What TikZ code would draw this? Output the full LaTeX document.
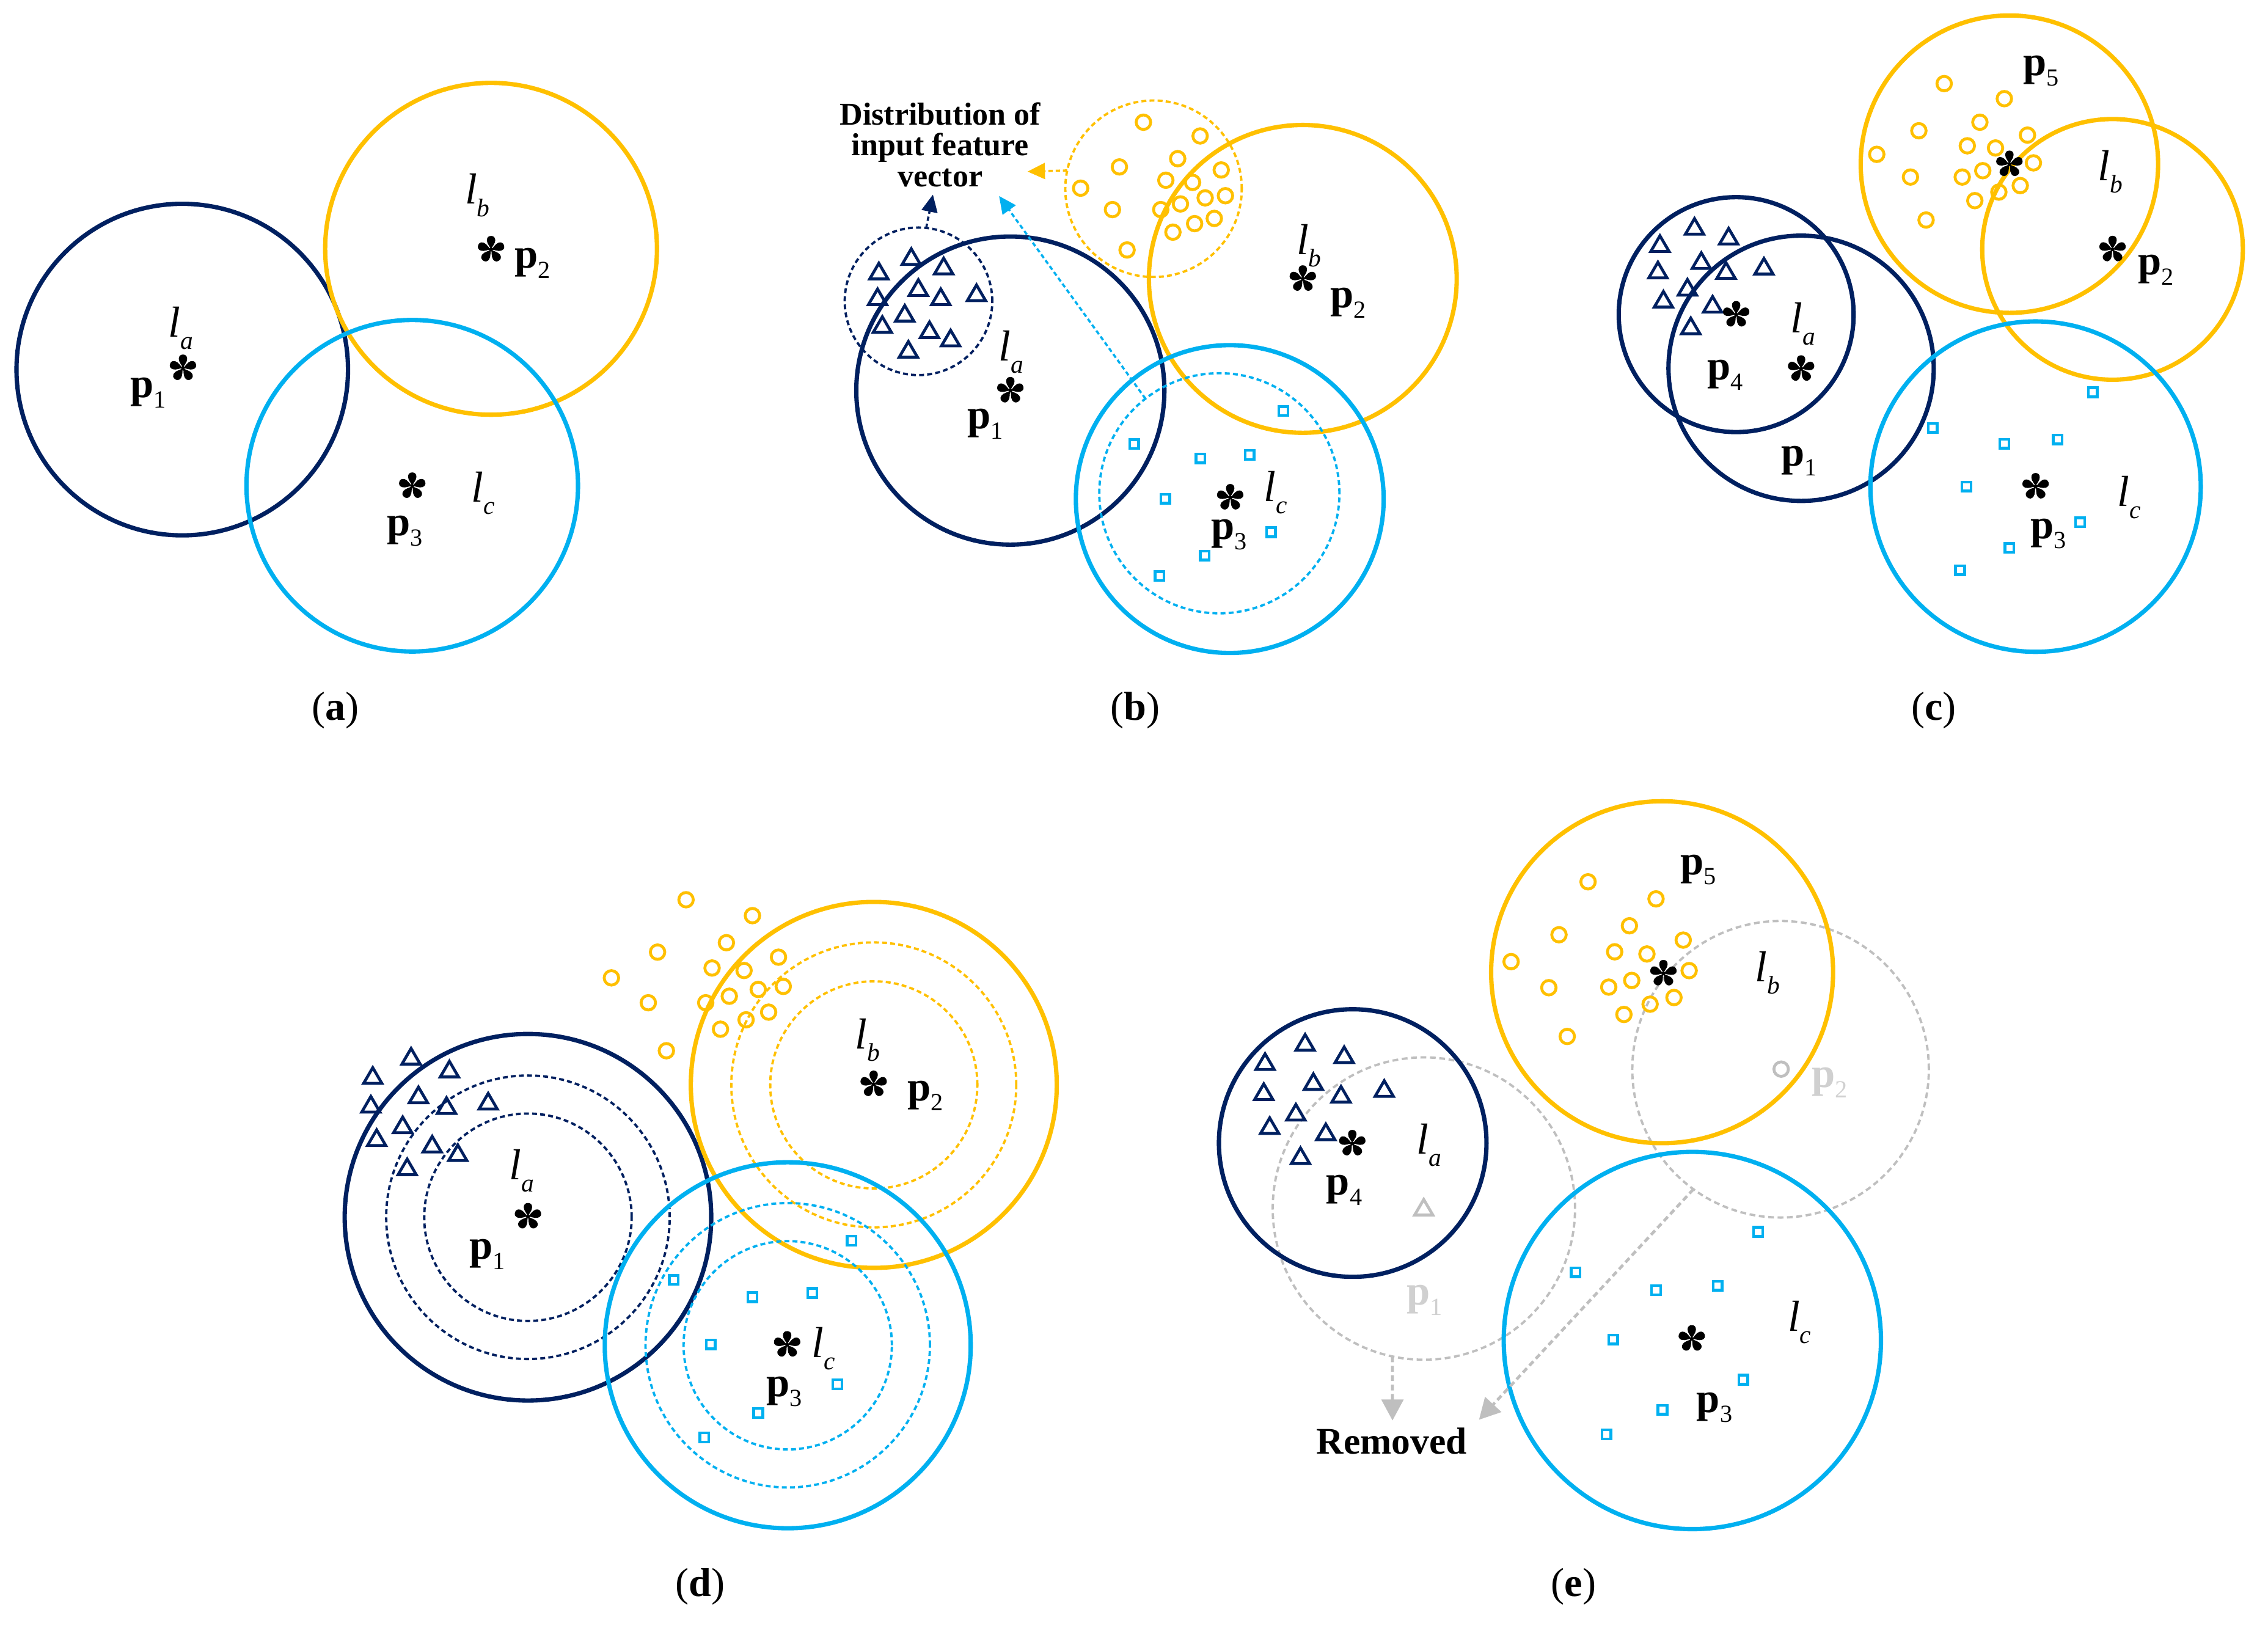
\documentclass[tikz,border=0pt]{standalone}
\usepackage{fontspec}
\setmainfont{Liberation Serif}
\usetikzlibrary{arrows.meta}
\definecolor{navy}{RGB}{0,32,96}
\definecolor{gold}{RGB}{255,192,0}
\definecolor{sky}{RGB}{0,176,240}
\definecolor{ghost}{RGB}{191,191,191}
\definecolor{ghosttxt}{RGB}{208,208,208}
\newcommand\pv[1]{{\fontsize{29}{30}\selectfont\bfseries p}\raisebox{-7pt}{\fontsize{17}{20}\selectfont #1}}
\newcommand\lv[1]{{\fontsize{30}{30}\selectfont\itshape l}\raisebox{-8.5pt}{\fontsize{17.5}{20}\selectfont\itshape #1}}
\begin{document}
\begin{tikzpicture}[x=1pt,y=-1pt,
  big/.style={line width=3pt},
  dsh/.style={line width=1.6pt,dash pattern=on 3.4pt off 2.2pt},
  lab/.style={inner sep=0pt,outer sep=0pt},
  panelcap/.style={inner sep=0pt,font=\fontsize{28}{30}\selectfont},
  arr/.style={line width=1.5pt,dash pattern=on 3pt off 2pt,-{Triangle[length=12pt,width=11pt]}},
  garr/.style={line width=2pt,dash pattern=on 4pt off 2.5pt,-{Triangle[length=14.5pt,width=15pt]}},
  dnode/.style={circle,draw,dsh,inner sep=0pt,outer sep=0pt},
  tri/.pic={\draw[line width=2pt] (0pt,6pt) -- (-6.3pt,-4.8pt) -- (6.3pt,-4.8pt) -- cycle;},
  ring/.pic={\draw[line width=2pt] (0,0) circle[radius=5pt];},
  sqr/.pic={\draw[line width=1.9pt] (-3.1pt,-3.1pt) rectangle (3.1pt,3.1pt);},
  ast/.pic={\fill[black] (0,0) circle[radius=1.3pt];
    \foreach \a in {90,162,234,306,18}{\fill[black,rotate=\a] (0,0) .. controls (2pt,0.6pt) and (4pt,2.9pt) .. (6.4pt,2.9pt) .. controls (8.4pt,2.9pt) and (9.4pt,1.7pt) .. (9.4pt,0pt) .. controls (9.4pt,-1.7pt) and (8.4pt,-2.9pt) .. (6.4pt,-2.9pt) .. controls (4pt,-2.9pt) and (2pt,-0.6pt) .. (0,0) -- cycle;}}
]
\useasboundingbox (0,0) rectangle (1568,1126);

% ================= (a) =================
\draw[navy,big] (126,255.5) circle[radius=114.6pt];
\draw[gold,big] (339.5,172) circle[radius=114.7pt];
\draw[sky,big] (285,335.8) circle[radius=114.6pt];
\pic at (126.5,254.5) {ast};
\pic at (339.5,172.5) {ast};
\pic at (285,336) {ast};
\node[lab] (a-la) at (125,227) {\lv{a}};
\node[lab] (a-p1) at (102.6,271.6) {\pv{1}};
\node[lab] (a-lb) at (330,135) {\lv{b}};
\node[lab] (a-p2) at (368,182) {\pv{2}};
\node[lab] (a-lc) at (334,341) {\lv{c}};
\node[lab] (a-p3) at (280,367) {\pv{3}};
\node[panelcap] (a-cap) at (232,491) {(\textbf{a})};

% ================= (b) =================
\draw[navy,big] (698.5,270) circle[radius=106.5pt];
\draw[gold,big] (900.7,192.8) circle[radius=106.4pt];
\draw[sky,big] (850.2,345) circle[radius=106.4pt];
\node[dnode,navy,minimum size=102pt] (b-dn) at (635,208.3) {};
\node[dnode,gold,minimum size=122pt] (b-dy) at (797.5,130.5) {};
\node[dnode,sky,minimum size=166pt] (b-ds) at (843,341) {};
\foreach \x/\y in {630/178, 607.6/188, 652.4/184.5, 634.9/199.4, 606.7/205.8, 650.4/205.8, 675.1/203, 625.5/217.2, 610/225, 642.6/228.6, 657.2/234.3, 628/242.1}
  \pic[navy] at (\x,\y) {tri};
\foreach \x/\y in {790.5/84.5, 829.7/94, 773.9/115.4, 814.2/109.7, 747.1/130.1, 806/124.6, 844.3/117.5, 824.5/126.1, 769.1/144.9, 802.5/144.9, 816.1/141, 833.2/136.8, 847.2/135.3, 825.9/154.6, 839.5/151, 810.9/160.5, 779.2/172.8}
  \pic[gold] at (\x,\y) {ring};
\foreach \x/\y in {887.3/284.2, 784.1/307, 829.9/316.9, 863.9/314.5, 805.7/344.8, 878.7/367.9, 832.9/384.1, 801.6/398.2}
  \pic[sky] at (\x,\y) {sqr};
\node[lab,align=center,font=\fontsize{22}{21.4}\selectfont\bfseries] (b-dist) at (650,100) {Distribution of\\input feature\\vector};
\coordinate (b-tn) at (645,134.5);
\coordinate (b-ty) at (710.4,118.6);
\coordinate (b-ts) at (690.7,135.5);
\draw[arr,navy] (b-dn.84) -- (b-tn);
\draw[arr,gold] (b-dy.168.7) -- (b-ty);
\draw[arr,sky] (b-ds.128.6) -- (b-ts);
\pic at (698.5,270) {ast};
\pic at (900.7,192.8) {ast};
\pic at (850.5,344) {ast};
\node[lab] (b-la) at (699,243.5) {\lv{a}};
\node[lab] (b-p1) at (681,293) {\pv{1}};
\node[lab] (b-lb) at (905,170) {\lv{b}};
\node[lab] (b-p2) at (932,209.5) {\pv{2}};
\node[lab] (b-lc) at (882,340.5) {\lv{c}};
\node[lab] (b-p3) at (849.6,369.6) {\pv{3}};
\node[panelcap] (b-cap) at (785,491) {(\textbf{b})};

% ================= (c) =================
\draw[navy,big] (1200.3,217.5) circle[radius=81.2pt];
\draw[navy,big] (1245.2,254.6) circle[radius=91.7pt];
\draw[gold,big] (1389.2,113.5) circle[radius=102.8pt];
\draw[gold,big] (1460.5,172.4) circle[radius=90.1pt];
\draw[sky,big] (1407.3,336.4) circle[radius=114.2pt];
\foreach \x/\y in {1171.5/157.1, 1147.6/169, 1195.1/163.9, 1176.2/180.8, 1146.2/187.3, 1193.3/187.6, 1219.5/184.7, 1166.6/199.2, 1150/207.5, 1184/211, 1168.9/225.9}
  \pic[navy] at (\x,\y) {tri};
\foreach \x/\y in {1344.1/57.8, 1385.7/68.2, 1326.6/90.4, 1368.8/84.5, 1297.5/106.7, 1360.1/100.8, 1401.7/93.4, 1379.6/102.3, 1320.8/122.4, 1356.6/122.4, 1370.8/118, 1405.8/112.6, 1396.7/128.3, 1381.9/132.8, 1365.3/138.7, 1331.6/152.1}
  \pic[gold] at (\x,\y) {ring};
\foreach \x/\y in {1446.8/271.2, 1336.2/295.8, 1385.7/306.8, 1422.6/303.8, 1359.5/336.4, 1438.1/361, 1389.2/378.8, 1355.1/394.2}
  \pic[sky] at (\x,\y) {sqr};
\pic at (1389.2,113.5) {ast};
\pic at (1460.5,172.4) {ast};
\pic at (1200.3,217.5) {ast};
\pic at (1245.2,255) {ast};
\pic at (1407.3,336.4) {ast};
\node[lab] (c-p5) at (1411,49) {\pv{5}};
\node[lab] (c-lb) at (1459,118.6) {\lv{b}};
\node[lab] (c-p2) at (1490.4,186.7) {\pv{2}};
\node[lab] (c-la) at (1246.6,223.8) {\lv{a}};
\node[lab] (c-p4) at (1192.7,259.4) {\pv{4}};
\node[lab] (c-p1) at (1243.7,318.6) {\pv{1}};
\node[lab] (c-lc) at (1472,343.8) {\lv{c}};
\node[lab] (c-p3) at (1416,369) {\pv{3}};
\node[panelcap] (c-cap) at (1337,491) {(\textbf{c})};

% ================= (d) =================
\draw[navy,big] (365,841.5) circle[radius=126.7pt];
\draw[navy,dsh] (365,841.5) circle[radius=98pt];
\draw[navy,dsh] (365,841.5) circle[radius=71.7pt];
\draw[gold,big] (604.1,750) circle[radius=126.5pt];
\draw[gold,dsh] (604.1,750) circle[radius=98.5pt];
\draw[gold,dsh] (604.1,750) circle[radius=71.6pt];
\draw[sky,big] (544.6,930) circle[radius=126.5pt];
\draw[sky,dsh] (544.6,930) circle[radius=98.3pt];
\draw[sky,dsh] (544.6,930) circle[radius=72pt];
\foreach \x/\y in {284.2/730.8, 257.7/744.1, 310.7/739.7, 289.3/757.5, 256.4/764, 308.7/764.9, 337.5/761.9, 278.4/778.2, 260.4/787.1, 298.8/791.6, 316.5/797.5, 281.5/807.3}
  \pic[navy] at (\x,\y) {tri};
\foreach \x/\y in {474.3/622, 520.2/633, 502.2/651.7, 454.6/658.2, 538.2/661.7, 492.3/669.2, 514.4/670.9, 422.7/676, 504.2/688.7, 524.2/684, 541.5/681.9, 448.2/693.2, 487.9/693.2, 531.4/699.7, 515.8/705, 498.1/711.5, 460.7/726.4}
  \pic[gold] at (\x,\y) {ring};
\foreach \x/\y in {588.7/857.7, 465.8/884.9, 520.2/896.8, 561.6/893.8, 491.3/929.4, 578.9/957, 524.2/976.8, 486.9/993.7}
  \pic[sky] at (\x,\y) {sqr};
\pic at (365,841) {ast};
\pic at (604,749.5) {ast};
\pic at (544.2,929.6) {ast};
\node[lab] (d-la) at (360.6,809.4) {\lv{a}};
\node[lab] (d-p1) at (336.8,867.2) {\pv{1}};
\node[lab] (d-lb) at (599.9,719) {\lv{b}};
\node[lab] (d-p2) at (639.7,757.5) {\pv{2}};
\node[lab] (d-lc) at (569.4,932.4) {\lv{c}};
\node[lab] (d-p3) at (542.2,962) {\pv{3}};
\node[panelcap] (d-cap) at (484,1097) {(\textbf{d})};

% ================= (e) =================
\node[dnode,ghost,minimum size=209pt,dash pattern=on 4pt off 2.5pt] (e-g1) at (984.4,835.5) {};
\node[dnode,ghost,minimum size=205pt,dash pattern=on 4pt off 2.5pt] (e-g2) at (1231,739.2) {};
\draw[navy,big] (935.2,790.2) circle[radius=92.5pt];
\draw[gold,big] (1149.1,672.1) circle[radius=118.2pt];
\draw[sky,big] (1170,926.7) circle[radius=130.4pt];
\foreach \x/\y in {902.3/721.2, 874.6/734.5, 929.3/729.8, 908/748.4, 873.7/755.3, 927.1/757.1, 957/753.1, 895.9/769.5, 877.8/778.8, 916.6/783.1, 899.1/799.6}
  \pic[navy] at (\x,\y) {tri};
\pic[ghost] at (984.3,835.2) {tri};
\foreach \x/\y in {1097.9/609.6, 1144.9/621.4, 1077.8/646.2, 1126.5/640, 1044.7/664.8, 1116.3/658, 1163.7/649.9, 1138.6/659.5, 1070.8/682.8, 1112.2/682.4, 1128.1/677.8, 1167.8/671, 1157.3/689.6, 1140.8/694.2, 1122.7/701.3, 1083.5/716.5}
  \pic[gold] at (\x,\y) {ring};
\pic[ghost] at (1231.4,739.1) {ring};
\foreach \x/\y in {1215.5/851.6, 1089.3/879.5, 1144.9/891.9, 1187.5/888.8, 1115.3/926, 1205.3/953.8, 1149.4/974.6, 1110.6/991.6}
  \pic[sky] at (\x,\y) {sqr};
\pic at (1150,673) {ast};
\pic at (934.9,790.5) {ast};
\pic at (1169.6,925.5) {ast};
\node[lab] (e-p5) at (1174.2,601.3) {\pv{5}};
\node[lab] (e-lb) at (1222,672.5) {\lv{b}};
\node[lab,text=ghosttxt] (e-p2) at (1264.8,748.4) {\pv{2}};
\node[lab] (e-la) at (988.1,791.8) {\lv{a}};
\node[lab] (e-p4) at (929.3,822.8) {\pv{4}};
\node[lab,text=ghosttxt] (e-p1) at (985,898.7) {\pv{1}};
\node[lab] (e-lc) at (1244.1,914.2) {\lv{c}};
\node[lab] (e-p3) at (1185.3,973) {\pv{3}};
\node[lab,font=\fontsize{26}{28}\selectfont\bfseries] (e-rem) at (962.1,996.3) {Removed};
\coordinate (e-t1) at (962.7,982);
\coordinate (e-t2) at (1022.5,981.5);
\draw[garr,ghost] (e-g1.-102) -- (e-t1);
\draw[garr,ghost] (e-g2.-126.2) -- (e-t2);
\node[panelcap] (e-cap) at (1088,1097) {(\textbf{e})};
\end{tikzpicture}
\end{document}
